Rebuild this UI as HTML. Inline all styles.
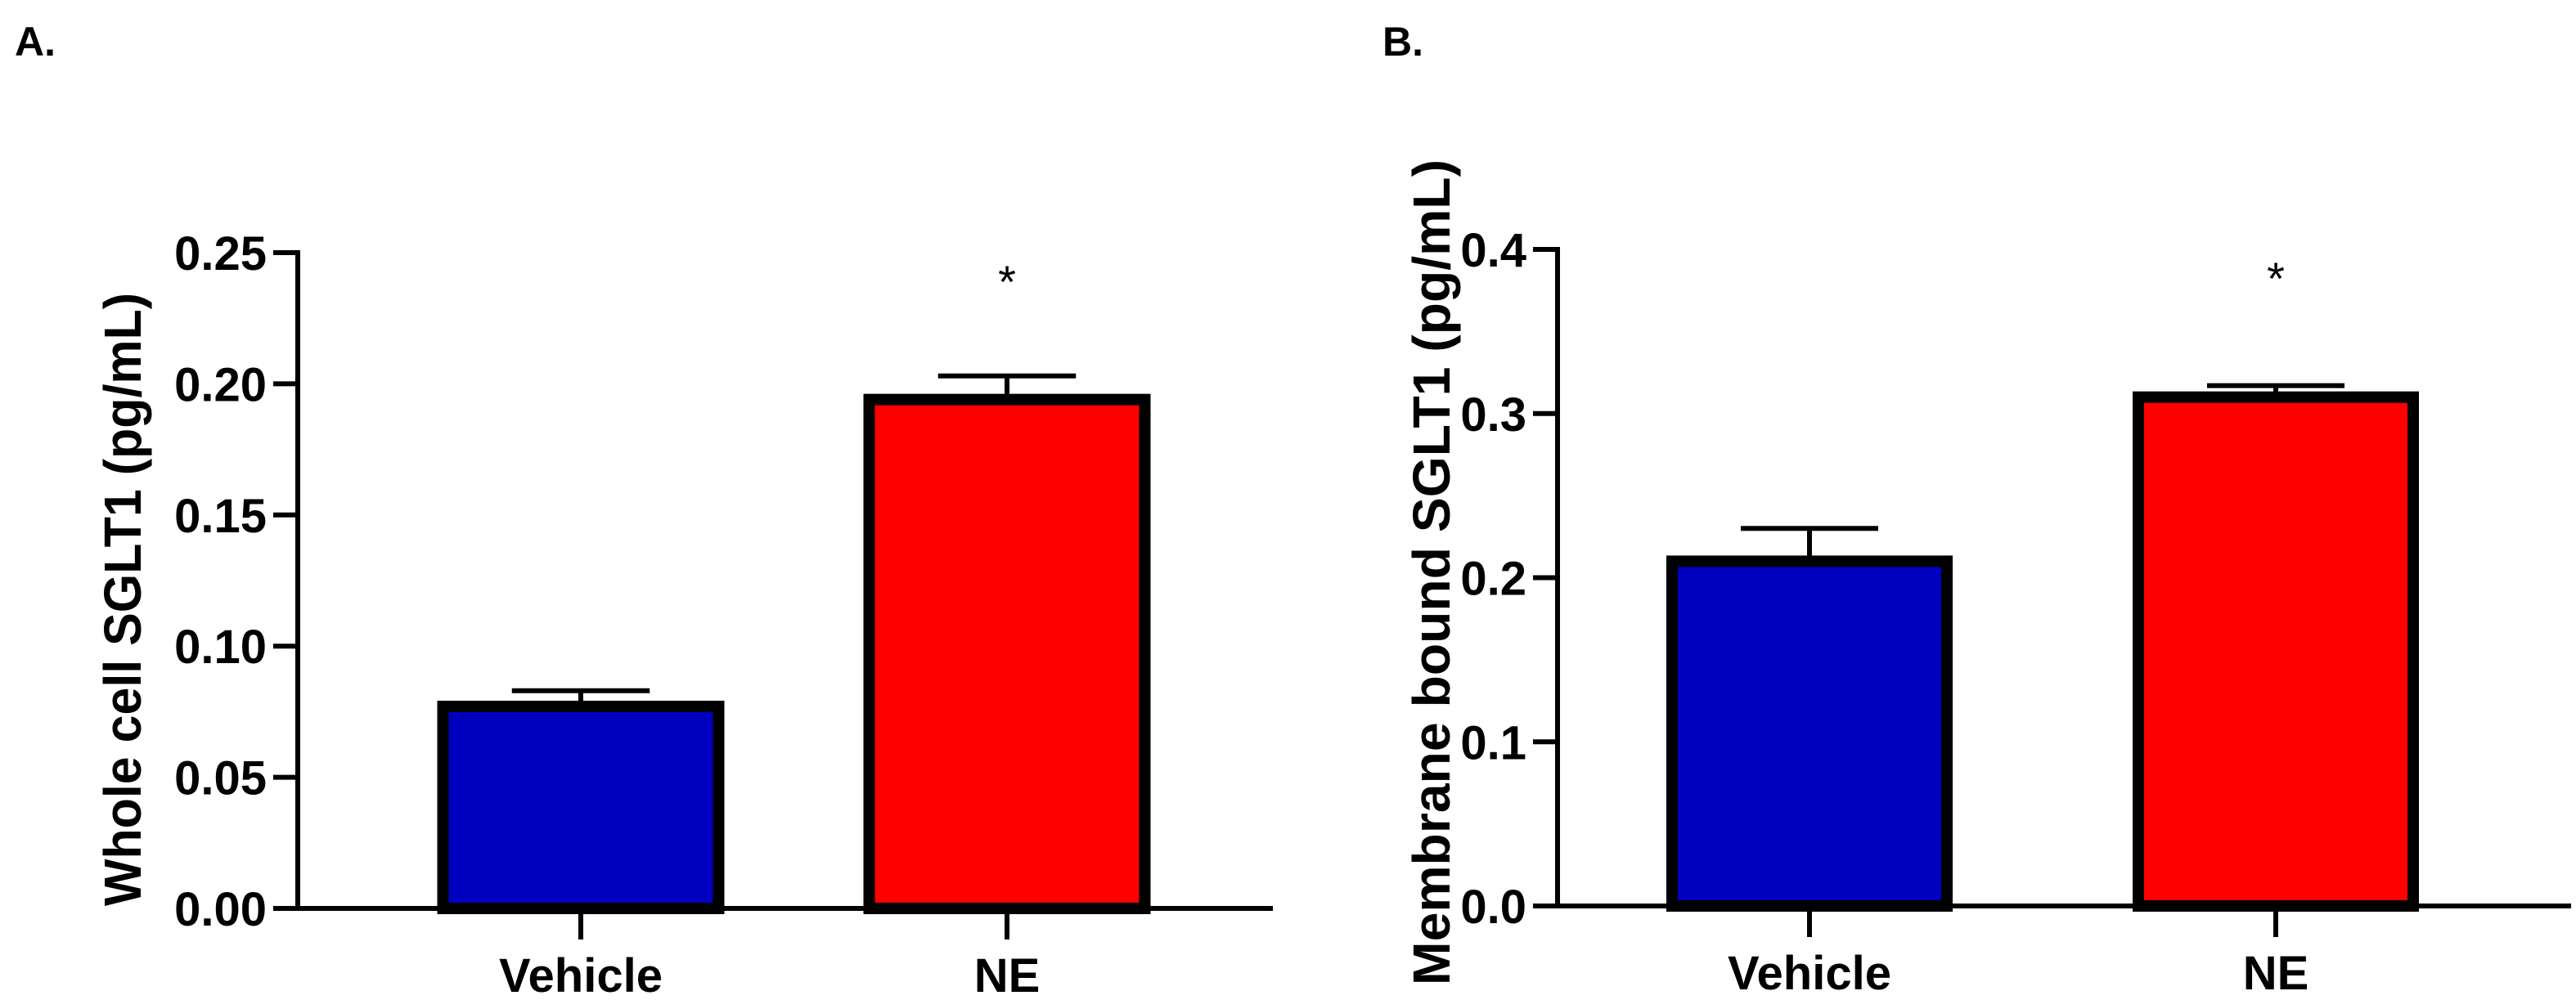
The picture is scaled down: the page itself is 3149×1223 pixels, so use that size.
<!DOCTYPE html>
<html><head><meta charset="utf-8"><style>
html,body{margin:0;padding:0;background:#fff;}
svg{display:block;font-family:"Liberation Sans",Arial,sans-serif;font-weight:bold;}
</style></head>
<body>
<svg id="fig" width="3149" height="1223" viewBox="0 0 3149 1223" xmlns="http://www.w3.org/2000/svg">
<text x="18" y="68" font-size="50">A.</text>
<text x="1690" y="68" font-size="50">B.</text>
</svg>
<script>
const categories = ["Vehicle", "NE"];
const panelAValues = [0.077, 0.194];
const panelAErrors = [0.006, 0.009];
const panelATicks = ["0.00", "0.05", "0.10", "0.15", "0.20", "0.25"];
const panelBValues = [0.21, 0.31];
const panelBErrors = [0.02, 0.007];
const panelBTicks = ["0.0", "0.1", "0.2", "0.3", "0.4"];
const colors = ["#0000bf", "#ff0000"];
const sigMarks = ["", "*"];

const svg = document.getElementById('fig');
const NS = "http://www.w3.org/2000/svg";
function mk(tag, attrs, parent) {
  const e = document.createElementNS(NS, tag);
  for (const k in attrs) e.setAttribute(k, attrs[k]);
  (parent || svg).appendChild(e);
  return e;
}

function panel(cfg) {
  const g = mk('g', {});
  
  
  const ticks = cfg.ticks.map(Number);
  const ymax = ticks[ticks.length - 1];
  const y = v => cfg.base - (v / ymax) * (cfg.base - cfg.top);
  const ya = mk('line', {x1: cfg.ax, y1: cfg.top - 3, x2: cfg.ax, y2: cfg.base, stroke: '#000', 'stroke-width': 6}, g);
  
  
  cfg.ticks.forEach((t, i) => {
    const yy = y(ticks[i]);
    const tl = mk('line', {x1: cfg.ax - 30, y1: yy, x2: cfg.ax, y2: yy, stroke: '#000', 'stroke-width': 6}, g);
    
    
    const tx = mk('text', {x: cfg.ax - 38, y: yy + 21, 'font-size': 58, 'text-anchor': 'end'}, g);
    tx.textContent = t;
    
    
  });
  categories.forEach((c, i) => {
    const cx = cfg.centers[i];
    const v = cfg.values[i], e = cfg.errors[i];
    const hw = cfg.barW / 2;
    const eb = mk('line', {x1: cx, y1: y(v + e), x2: cx, y2: y(v), stroke: '#000', 'stroke-width': 6}, g);
    
    
    const cap = mk('line', {x1: cx - hw / 2, y1: y(v + e), x2: cx + hw / 2, y2: y(v + e), stroke: '#000', 'stroke-width': 6}, g);
    
    
    const r = mk('rect', {x: cx - hw, y: y(v), width: cfg.barW, height: cfg.base - y(v), fill: colors[i], stroke: '#000', 'stroke-width': 14}, g);
    
    
    const xt = mk('line', {x1: cx, y1: cfg.base, x2: cx, y2: cfg.base + 38, stroke: '#000', 'stroke-width': 6}, g);
    
    
    const lab = mk('text', {x: cx, y: cfg.base + 102, 'font-size': 58, 'text-anchor': 'middle'}, g);
    lab.textContent = c;
    
    
    if (sigMarks[i]) {
      const s = mk('text', {x: cx, y: cfg.top + 55, 'font-size': 56, 'text-anchor': 'middle', 'font-weight': 'normal'}, g);
      s.textContent = sigMarks[i];
      
      
    }
  });
  const xa = mk('line', {x1: cfg.ax - 30, y1: cfg.base, x2: cfg.xend, y2: cfg.base, stroke: '#000', 'stroke-width': 6}, g);
  
  
  const tt = mk('text', {x: 0, y: 0, 'font-size': 64, 'text-anchor': 'middle', textLength: cfg.titleLen, lengthAdjust: 'spacingAndGlyphs', transform: 'translate(' + cfg.titleX + ',' + cfg.titleY + ') rotate(-90)'}, g);
  tt.textContent = cfg.title;
  
  
}

panel({name: 'panel-a-chart', ax: 364, top: 309, base: 1111, xend: 1556,
  centers: [710, 1231], barW: 337, values: panelAValues, errors: panelAErrors,
  ticks: panelATicks, title: 'Whole cell SGLT1 (pg/mL)', titleX: 172, titleY: 733, titleLen: 750});
panel({name: 'panel-b-chart', ax: 1904, top: 305, base: 1108, xend: 3143,
  centers: [2212, 2782], barW: 336, values: panelBValues, errors: panelBErrors,
  ticks: panelBTicks, title: 'Membrane bound SGLT1 (pg/mL)', titleX: 1772, titleY: 700, titleLen: 1010});
</script>
</body></html>
